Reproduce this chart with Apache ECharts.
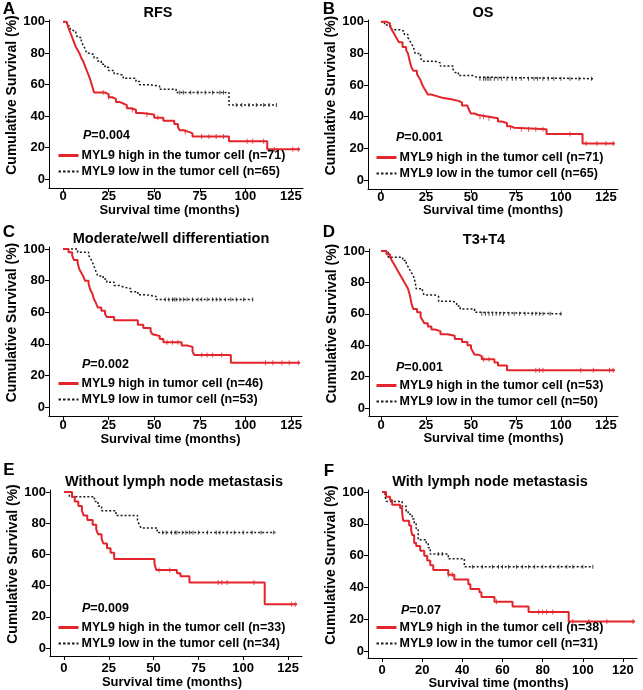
<!DOCTYPE html>
<html><head><meta charset="utf-8">
<script src="https://cdn.jsdelivr.net/npm/echarts@6/dist/echarts.min.js"></script>
<style>html,body{margin:0;padding:0;background:#fff}#c{width:643px;height:690px}</style>
</head><body><div id="c"></div>
<script>
// ---------------- DATA ----------------
const panelLetters = ['A', 'B', 'C', 'D', 'E', 'F'];
const panelTitles = ['RFS', 'OS', 'Moderate/well differentiation', 'T3+T4', 'Without lymph node metastasis', 'With lymph node metastasis'];
const pValues = ['0.004', '0.001', '0.002', '0.001', '0.009', '0.07'];
const highLabels = ['MYL9 high in the tumor cell (n=71)', 'MYL9 high in the tumor cell (n=71)', 'MYL9 high in tumor cell (n=46)', 'MYL9 high in the tumor cell (n=53)', 'MYL9 high in the tumor cell (n=33)', 'MYL9 high in the tumor cell (n=38)'];
const lowLabels = ['MYL9 low in the tumor cell (n=65)', 'MYL9 low in the tumor cell (n=65)', 'MYL9 low in tumor cell (n=53)', 'MYL9 low in the tumor cell (n=50)', 'MYL9 low in the tumor cell (n=34)', 'MYL9 low in the tumor cell (n=31)'];
const xTicks125 = [0, 25, 50, 75, 100, 125];
const xTicks120 = [0, 20, 40, 60, 80, 100, 120];
const yTicks = [0, 20, 40, 60, 80, 100];
const xAxisTitle = 'Survival time (months)';
const yAxisTitle = 'Cumulative Survival (%)';

// Kaplan-Meier step points [month, survival %]
const highA = [[0,100],[2,99],[3,96],[4,93],[5,90],[6,87],[7,84],[8,82],[9,80],[10,77],[11,75],[12,72],[13,69],[14,66],[15,63],[16,59],[17,55],[23,54],[25,52],[27,51],[29,49],[31,48],[33,47],[35,45],[37,44],[40,42],[43,41],[50,39],[55,37],[61,35],[63,33],[64,31],[66,30],[69,29],[71,27],[91,24],[112,19],[130,19]];
const lowA = [[0,100],[2,98],[3,97],[4,95],[5,94],[7,92],[8,90],[10,88],[11,85],[12,83],[13,80],[15,79],[17,77],[19,75],[21,73],[23,71],[25,69],[28,67],[30,66],[33,64],[40,62],[42,60],[47,59],[53,57],[62,55],[91,47],[117,47]];
const highB = [[0,100],[3,99],[5,97],[6,95],[7,93],[8,91],[9,89],[10,87],[12,84],[14,82],[15,80],[16,75],[17,71],[18,69],[20,67],[21,65],[22,63],[23,60],[24,58],[25,56],[26,54],[28,53],[31,52],[34,51],[39,50],[43,49],[45,47],[48,46],[49,44],[50,42],[52,41],[54,40],[60,39],[65,37],[67,36],[70,34],[72,33],[74,32],[92,29],[112,23],[130,23]];
const lowB = [[0,100],[2,98],[4,97],[6,95],[10,94],[13,92],[15,90],[16,88],[17,86],[18,84],[19,80],[22,77],[23,75],[30,74],[33,72],[40,70],[41,68],[43,66],[51,65],[53,64],[118,64]];
const highC = [[0,100],[3,98],[5,96],[6,93],[8,91],[9,87],[10,85],[11,83],[12,80],[14,78],[15,74],[16,72],[17,68],[18,66],[19,63],[21,61],[23,59],[24,57],[28,55],[41,52],[44,50],[48,48],[49,46],[50,45],[53,43],[55,41],[65,39],[68,38],[71,35],[72,33],[92,28],[130,28]];
const lowC = [[0,100],[8,98],[14,96],[15,94],[16,92],[17,89],[18,86],[19,83],[22,81],[24,79],[28,77],[31,76],[33,75],[37,73],[41,71],[46,70],[51,68],[104,68]];
const highD = [[0,100],[3,98],[5,96],[6,94],[7,92],[8,90],[9,88],[10,86],[11,84],[12,82],[13,80],[14,78],[15,76],[16,72],[17,66],[18,63],[20,61],[22,58],[23,56],[24,54],[26,52],[28,50],[30,49],[33,47],[37,46],[41,44],[45,42],[48,40],[50,38],[51,36],[52,34],[54,33],[56,31],[63,29],[65,27],[70,24],[130,24]];
const lowD = [[0,100],[4,96],[12,94],[14,92],[15,90],[16,88],[17,86],[18,84],[19,80],[19.5,76],[23,74],[24,72],[30,71],[32,68],[40,67],[42,65],[44,63],[52,61],[53,60],[101,60]];
const highE = [[0,100],[4.5,97],[6,94],[8,91],[10,88],[11,85],[13,82],[16,79],[18,76],[19,73],[21,70],[22,67],[24,64],[26,61],[28,57],[50.5,54],[51.5,50],[63,48],[65,46],[70,42],[112,28],[130,28]];
const lowE = [[0,100],[3,97],[17,94],[19,91],[21,88],[29,85],[41,82],[42,79],[43,77],[52,74],[118,74]];
const highF = [[0,100],[2,97],[4,95],[5,92],[9,90],[10,87],[10.5,82],[13.5,79],[14.5,76],[15,73],[16,68],[17,66],[19,63],[21,60],[22.5,57],[24,54],[25.5,51],[33,48],[36,45],[43,42],[44,39],[48.5,37],[49.5,34],[56,31],[65,28],[73,24.5],[93,18.5],[126,18.5]];
const lowF = [[0,100],[1.5,97],[2.3,94],[10,91],[12,88],[13,86],[15,83],[16,80],[17,77],[18,70],[22,68],[23,65],[24,61],[33,58],[41,53],[105,53]];

// censored observation times (months)
const censHighA = [22, 25, 38, 46, 52, 67, 76, 80, 84, 88, 101, 104, 110, 116, 126, 129];
const censLowA = [64, 66, 70, 74, 78, 82, 86, 88, 95, 98, 102, 106, 110, 113, 117];
const censHighB = [55, 57, 60, 72, 78, 82, 86, 90, 105, 114, 120, 125, 129];
const censLowB = [55, 57, 58, 59, 60, 61, 63, 65, 67, 70, 73, 75, 78, 82, 85, 87, 90, 93, 96, 100, 105, 110, 117];
const censHighC = [57, 60, 63, 76, 79, 82, 87, 111, 115, 120, 124, 129];
const censLowC = [56, 58, 60, 61, 62, 64, 66, 68, 71, 74, 76, 79, 82, 84, 86, 89, 92, 95, 99, 104];
const censHighD = [57, 60, 86, 88, 90, 111, 118, 127, 129];
const censLowD = [56, 58, 60, 62, 64, 66, 68, 71, 74, 77, 80, 84, 86, 88, 90, 94, 100];
const censHighE = [53, 59, 86, 88, 91, 106, 127, 129];
const censLowE = [55, 57, 60, 62, 63, 66, 68, 70, 72, 75, 80, 85, 87, 91, 95, 100, 105, 110, 117];
const censHighF = [33, 35, 57, 78, 80, 82, 85, 95, 103, 112, 125];
const censLowF = [28, 30, 45, 50, 55, 58, 60, 63, 67, 70, 73, 76, 80, 84, 88, 92, 95, 100, 105];

const highSeries = [highA, highB, highC, highD, highE, highF];
const lowSeries = [lowA, lowB, lowC, lowD, lowE, lowF];
const censHigh = [censHighA, censHighB, censHighC, censHighD, censHighE, censHighF];
const censLow = [censLowA, censLowB, censLowC, censLowD, censLowE, censLowF];
const xTickSets = [xTicks125, xTicks125, xTicks125, xTicks125, xTicks125, xTicks120];

// ---------------- LAYOUT ----------------
const FONT = '"Liberation Sans", Arial, sans-serif';
const RED = '#e3242b';
const BLACK = '#1a1a1a';
const layout = [
  {grid: {left: 49, top: 20, width: 254, height: 168}, x: [-7.7, 131.6], y: [-5.7, 101.1], lm: 2, ng: 16, np: 13, leg: [57, 149], p: [83, 136], t: [158, 13], l: [9, 9]},
  {grid: {left: 368, top: 20, width: 250, height: 169}, x: [-7.2, 131.7], y: [-5.7, 101.1], lm: 1.5, ng: 15, np: 0, leg: [375, 151], p: [396, 138], t: [483, 13], l: [329, 9]},
  {grid: {left: 49, top: 247, width: 253, height: 169}, x: [-7.7, 131], y: [-5.7, 101.3], lm: 3, ng: 14.5, np: 10, leg: [57, 377], p: [82, 365], t: [171, 239], l: [9, 232]},
  {grid: {left: 369, top: 249, width: 249, height: 167}, x: [-6.7, 131.7], y: [-5.1, 101.3], lm: 2.5, ng: 15, np: 0, leg: [375, 379], p: [396, 368], t: [484, 240], l: [329, 232]},
  {grid: {left: 50, top: 490, width: 252, height: 166}, x: [-7.8, 132.8], y: [-5.1, 101.3], lm: 5.5, ng: 20, np: 8, leg: [57, 621], p: [82, 609], t: [174, 482], l: [9, 470]},
  {grid: {left: 368, top: 490, width: 269, height: 168}, x: [-7, 127], y: [-4.4, 101.3], lm: 5.5, ng: 18.5, np: 8, leg: [375, 621], p: [401, 611], t: [490, 482], l: [329, 471]}
];

function survAt(curve, t) {
  let s = curve[0][1];
  for (const [tt, ss] of curve) { if (tt <= t) s = ss; else break; }
  return s;
}

const grids = [], xAxes = [], yAxes = [], series = [], legends = [], graphics = [];
layout.forEach((L, i) => {
  grids.push(Object.assign({containLabel: false, outerBoundsMode: 'none'}, L.grid));
  xAxes.push({
    type: 'value', gridIndex: i, min: L.x[0], max: L.x[1],
    axisLine: {show: true, onZero: false, lineStyle: {color: '#000', width: 1}},
    axisTick: {show: true, inside: false, length: 4, customValues: xTickSets[i], lineStyle: {color: '#000'}},
    axisLabel: {show: true, customValues: xTickSets[i], margin: L.lm, color: '#000', fontSize: 13, fontWeight: 'bold', fontFamily: FONT},
    splitLine: {show: false},
    name: xAxisTitle, nameLocation: 'middle', nameGap: L.ng,
    nameTextStyle: {color: '#000', fontSize: 13, fontWeight: 'bold', fontFamily: FONT, padding: [0, L.np, 0, 0]}
  });
  yAxes.push({
    type: 'value', gridIndex: i, min: L.y[0], max: L.y[1],
    axisLine: {show: true, onZero: false, lineStyle: {color: '#000', width: 1}},
    axisTick: {show: true, inside: false, length: 4, customValues: yTicks, lineStyle: {color: '#000'}},
    axisLabel: {show: true, customValues: yTicks, margin: 4, color: '#000', fontSize: 13, fontWeight: 'bold', fontFamily: FONT},
    splitLine: {show: false},
    name: yAxisTitle, nameLocation: 'middle', nameGap: 24, nameRotate: 90,
    nameTextStyle: {color: '#000', fontSize: 14, fontWeight: 'bold', fontFamily: FONT, padding: [0, 0, 0, 18]}
  });
  series.push({
    name: highLabels[i], type: 'line', xAxisIndex: i, yAxisIndex: i, step: 'end',
    data: highSeries[i], symbol: 'none', animation: false,
    lineStyle: {color: RED, width: 2}, itemStyle: {color: RED, opacity: 0}, z: 3
  });
  series.push({
    name: lowLabels[i], type: 'line', xAxisIndex: i, yAxisIndex: i, step: 'end',
    data: lowSeries[i], symbol: 'none', animation: false,
    lineStyle: {color: BLACK, width: 1.5, type: [2, 2]}, itemStyle: {color: BLACK, opacity: 0}, z: 2
  });
  series.push({
    name: 'censH' + i, type: 'scatter', xAxisIndex: i, yAxisIndex: i, animation: false,
    data: censHigh[i].map(t => [t, survAt(highSeries[i], t)]),
    symbol: 'rect', symbolSize: [1, 5], itemStyle: {color: RED}, silent: true, z: 4
  });
  series.push({
    name: 'censL' + i, type: 'scatter', xAxisIndex: i, yAxisIndex: i, animation: false,
    data: censLow[i].map(t => [t, survAt(lowSeries[i], t)]),
    symbol: 'rect', symbolSize: [1, 4], itemStyle: {color: BLACK}, silent: true, z: 4
  });
  legends.push({
    data: [
      {name: highLabels[i], lineStyle: {width: 3}},
      {name: lowLabels[i], lineStyle: {width: 2.2, type: [2.5, 2]}}
    ],
    orient: 'vertical', left: L.leg[0], top: L.leg[1],
    padding: 0, itemGap: 3, itemWidth: 20, itemHeight: 14, selectedMode: false,
    itemStyle: {opacity: 0},
    textStyle: {color: '#000', fontSize: 12.5, fontWeight: 'bold', fontFamily: FONT, padding: [0, 0, 0, -2]}
  });
  graphics.push({
    type: 'text', x: L.t[0], y: L.t[1],
    style: {text: panelTitles[i], fill: '#000', fontSize: 14.5, fontWeight: 'bold', fontFamily: FONT, align: 'center', verticalAlign: 'middle'}
  });
  graphics.push({
    type: 'text', x: L.l[0], y: L.l[1],
    style: {text: panelLetters[i], fill: '#000', fontSize: 17, fontWeight: 'bold', fontFamily: FONT, align: 'center', verticalAlign: 'middle'}
  });
  graphics.push({
    type: 'text', x: L.p[0], y: L.p[1],
    style: {
      text: '{i|P}=' + pValues[i], fill: '#000', fontSize: 12.5, fontWeight: 'bold', fontFamily: FONT,
      align: 'left', verticalAlign: 'middle',
      rich: {i: {fontStyle: 'italic', fontWeight: 'bold', fontSize: 12.5, fontFamily: FONT, fill: '#000'}}
    }
  });
});

const chart = echarts.init(document.getElementById('c'), null, {renderer: 'canvas'});
chart.setOption({
  backgroundColor: '#fff',
  animation: false,
  grid: grids, xAxis: xAxes, yAxis: yAxes, series: series, legend: legends,
  graphic: {elements: graphics}
});
</script></body></html>
